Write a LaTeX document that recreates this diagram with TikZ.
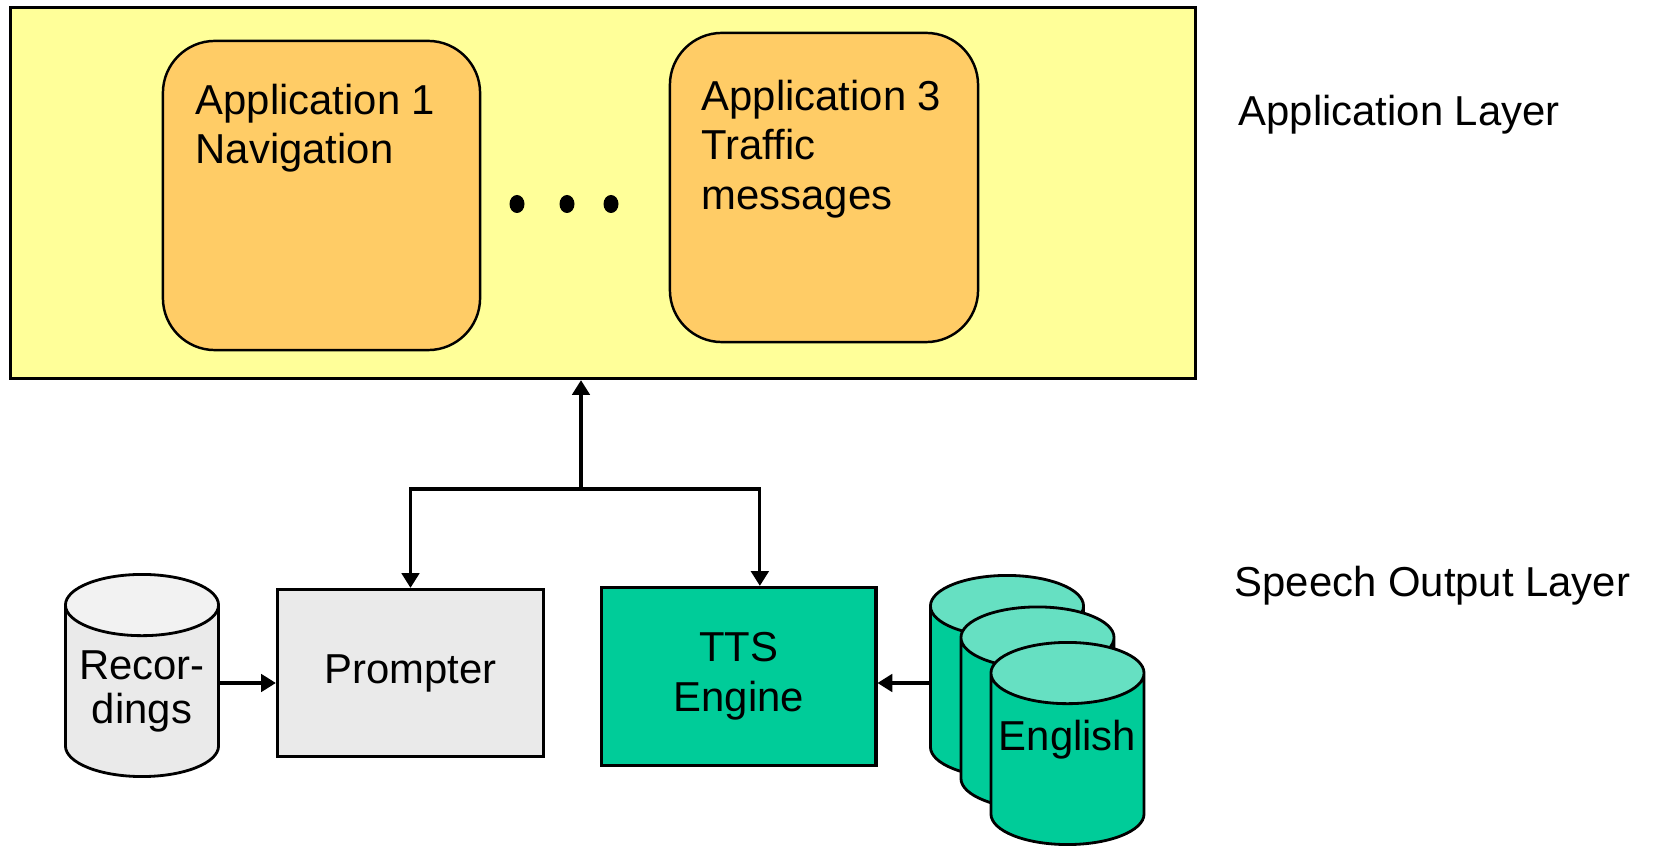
\documentclass[tikz,border=0pt]{standalone}
\usepackage{fontspec}
\setmainfont{Liberation Sans}
\usetikzlibrary{arrows.meta,positioning,shapes.geometric,calc}
\definecolor{cLayer}{RGB}{255,255,153}
\definecolor{cApp}{RGB}{255,204,102}
\definecolor{cPrompt}{RGB}{234,234,234}
\definecolor{cPromptTop}{RGB}{242,242,242}
\definecolor{cTTS}{RGB}{0,204,153}
\definecolor{cTTSTop}{RGB}{102,224,194}
\newcommand{\txtsize}{\fontsize{11.9}{14.2}\selectfont}
\tikzset{
  layer/.style={draw=black, fill=cLayer, line width=0.9pt, minimum width=11.85cm,
                minimum height=3.71cm, inner sep=0pt},
  app/.style={draw=black, fill=cApp, line width=0.7pt, rounded corners=0.52cm,
              minimum height=3.09cm, inner sep=0pt},
  apptxt/.style={anchor=north west, align=left, inner sep=0pt, font=\txtsize},
  blk/.style={draw=black, line width=0.9pt, align=center, font=\txtsize},
  db/.style={cylinder, shape border rotate=90, aspect=0.40, draw=black, line width=0.8pt,
             cylinder uses custom fill, text width=1.53cm, minimum width=1.53cm,
             minimum height=2.02cm, align=center, font=\txtsize, inner sep=0pt,
             anchor=shape center},
  dbrec/.style={db, cylinder body fill=cPrompt, cylinder end fill=cPromptTop},
  dblang/.style={db, cylinder body fill=cTTS, cylinder end fill=cTTSTop},
  arr/.style={-{Triangle[length=4.2pt,width=5pt]}, line width=0.9pt},
  lbl/.style={anchor=base west, inner sep=0pt, font=\txtsize},
}

\begin{document}
\begin{tikzpicture}[x=0.01cm, y=-0.01cm]
  \useasboundingbox (0,0) rectangle (1653,846);

  % application layer
  \node[layer] (applayer) at (603,193) {};
  \node[app, minimum width=3.17cm] (app1) at (321.5,195.5) {};
  \node[app, minimum width=3.08cm] (app3) at (824,187.5) {};
  \node[apptxt] (app1txt) at (195,83) {Application 1\\Navigation};
  \node[apptxt] (app3txt) at (701,79) {Application 3\\Traffic\\messages};
  \foreach \x in {517,567,611}
    \fill (\x,204) ellipse [x radius=7.5, y radius=9];
  \node[lbl] (applbl) at (1238,126) {Application Layer};

  % speech output layer
  \node[dbrec, font=\fontsize{11.9}{12.3}\selectfont] (rec) at (142,675.5) {Recor-\\dings};
  \node[blk, fill=cPrompt, minimum width=2.66cm, minimum height=1.67cm] (prompter)
        at (410.5,673) {Prompter};
  \node[blk, fill=cTTS, minimum width=2.74cm, minimum height=1.78cm,
        right=0.55cm of prompter, yshift=-0.035cm] (tts) {TTS\\Engine};
  \node[dblang] (lang1) at (1007,676.5) {};
  \node[dblang] (lang2) at (1037.5,708) {};
  \node[dblang] (lang3) at (1067.5,743.5) {\raisebox{0.2cm}[\height][\depth]{English}};
  \node[lbl] (speechlbl) at (1234,597) {Speech Output Layer};

  % connectors
  \coordinate (junc) at (581,489);
  \coordinate (recout) at ([yshift=-0.075cm]rec.east |- rec.shape center);
  \coordinate (langout) at ([yshift=-0.065cm]lang1.west |- lang1.shape center);
  \draw[arr] (junc) -- (junc |- applayer.south);
  \draw[arr] (junc) -| (prompter.north);
  \draw[arr] (junc) -| ([xshift=0.21cm]tts.north);
  \draw[arr] (recout) -- (recout -| prompter.west);
  \draw[arr] (langout) -- (langout -| tts.east);
\end{tikzpicture}
\end{document}
